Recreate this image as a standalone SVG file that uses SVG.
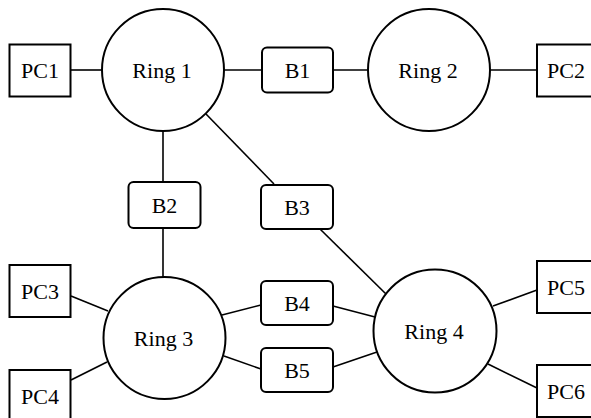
<svg xmlns="http://www.w3.org/2000/svg" width="591" height="418" viewBox="0 0 591 418">
<style>
.ring{fill:#fff;stroke:#000;stroke-width:2}
.pc{fill:#fff;stroke:#000;stroke-width:2}
.br{fill:#fff;stroke:#000;stroke-width:2}
.ln{stroke:#000;stroke-width:1.6;fill:none}
text{font-family:'Liberation Serif','Times New Roman',serif;font-size:22px;fill:#000;text-anchor:middle}
</style>
<rect width="591" height="418" fill="#fff"/>
<g id="connectors">
<line class="ln" x1="71" y1="70" x2="102" y2="70"/>
<line class="ln" x1="224" y1="70" x2="262" y2="70"/>
<line class="ln" x1="333" y1="70" x2="367" y2="70"/>
<line class="ln" x1="490" y1="70" x2="537" y2="70"/>
<line class="ln" x1="163" y1="131" x2="163" y2="182"/>
<line class="ln" x1="163" y1="228" x2="163" y2="277"/>
<line class="ln" x1="206" y1="114" x2="274" y2="184"/>
<line class="ln" x1="320" y1="229" x2="386" y2="294"/>
<line class="ln" x1="71" y1="296" x2="108" y2="311"/>
<line class="ln" x1="71" y1="380" x2="107" y2="362"/>
<line class="ln" x1="222" y1="315" x2="261" y2="305"/>
<line class="ln" x1="224" y1="356" x2="261" y2="369"/>
<line class="ln" x1="333" y1="306" x2="375" y2="317"/>
<line class="ln" x1="333" y1="367" x2="377" y2="352"/>
<line class="ln" x1="493" y1="306" x2="537" y2="290"/>
<line class="ln" x1="488" y1="364" x2="537" y2="388"/>
</g>
<g id="ring1"><circle class="ring" cx="163" cy="70" r="61"/><text x="162" y="77.5">Ring 1</text></g>
<g id="ring2"><circle class="ring" cx="429" cy="70" r="61"/><text x="428" y="77.5">Ring 2</text></g>
<g id="ring3"><circle class="ring" cx="164.5" cy="338" r="61"/><text x="163.5" y="345.5">Ring 3</text></g>
<g id="ring4"><circle class="ring" cx="435" cy="331" r="61.5"/><text x="434" y="338.5">Ring 4</text></g>
<g id="pc1"><rect class="pc" x="9.5" y="44.5" width="61" height="52"/><text x="40" y="78">PC1</text></g>
<g id="pc2"><rect class="pc" x="537" y="44.5" width="61" height="52"/><text x="566" y="78">PC2</text></g>
<g id="pc3"><rect class="pc" x="9.5" y="265" width="61" height="52"/><text x="40" y="298.5">PC3</text></g>
<g id="pc4"><rect class="pc" x="9.5" y="370" width="61" height="52"/><text x="40" y="403.5">PC4</text></g>
<g id="pc5"><rect class="pc" x="537" y="261" width="61" height="52"/><text x="566" y="294.5">PC5</text></g>
<g id="pc6"><rect class="pc" x="537" y="365" width="61" height="52"/><text x="566" y="398.5">PC6</text></g>
<g id="b1"><rect class="br" x="262" y="47.5" width="71" height="45" rx="5"/><text x="297.5" y="77.5">B1</text></g>
<g id="b2"><rect class="br" x="128.5" y="182" width="72" height="46" rx="5"/><text x="164.5" y="212.5">B2</text></g>
<g id="b3"><rect class="br" x="261" y="185" width="72" height="44" rx="5"/><text x="297" y="214.5">B3</text></g>
<g id="b4"><rect class="br" x="261" y="281" width="72" height="44" rx="5"/><text x="297" y="310.5">B4</text></g>
<g id="b5"><rect class="br" x="261" y="348" width="72" height="44" rx="5"/><text x="297" y="377.5">B5</text></g>
</svg>
